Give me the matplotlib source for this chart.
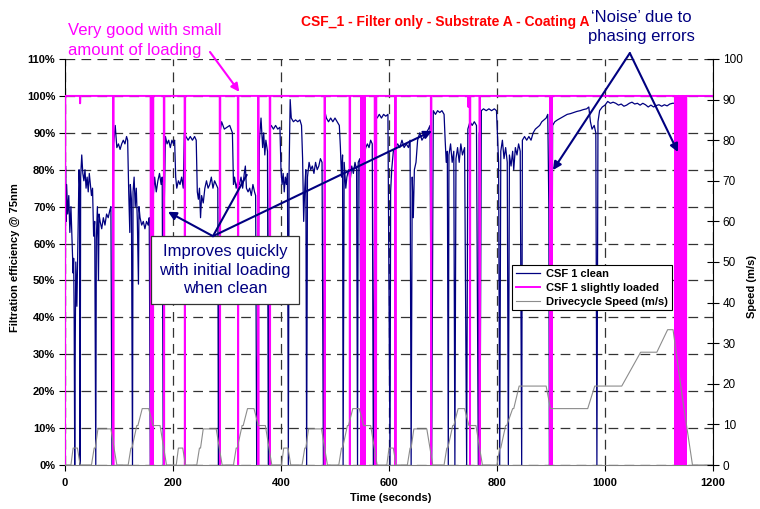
import matplotlib
matplotlib.use("Agg")
import matplotlib.pyplot as plt
from matplotlib.patches import Rectangle

# CSF 1 clean: filtration efficiency (%) vs time (s)
clean_readings = [
    (0, 0), (1, 81), (2, 66), (3, 76), (5, 68), (7, 73), (9, 63), (11, 70), (13, 61),
    (15, 52), (16, 56), (17, 40), (18, 0), (19, 34), (20, 55), (22, 43), (24, 62),
    (26, 80), (27, 76), (28, 0), (29, 78), (31, 84), (33, 79), (35, 77), (37, 80),
    (39, 75), (41, 78), (43, 74), (45, 79), (47, 76), (49, 73), (51, 75), (53, 62),
    (55, 66), (57, 0), (58, 61), (60, 70), (62, 50), (63, 68), (65, 66), (68, 64),
    (71, 67), (74, 65), (77, 68), (80, 67), (83, 69), (85, 70), (87, 0), (90, 87),
    (93, 92), (96, 86), (99, 87), (102, 85.5), (105, 87), (108, 88), (111, 87),
    (114, 89), (116, 88), (118, 74), (120, 63), (121, 76), (123, 72), (125, 0),
    (126, 74), (128, 78), (130, 70), (132, 75), (134, 66), (136, 49), (137, 70),
    (139, 67), (142, 65), (145, 66), (148, 64), (151, 66), (154, 65), (156, 67),
    (158, 0), (160, 71), (161, 0), (163, 72), (166, 78), (169, 74), (172, 77),
    (175, 79), (178, 76), (180, 78), (182, 0), (184, 72), (186, 89), (189, 87),
    (192, 88), (195, 86), (198, 88), (201, 87), (203, 88), (205, 78), (207, 75),
    (210, 77), (213, 76), (216, 78), (219, 75), (221, 90), (224, 89), (228, 88),
    (232, 89), (236, 88), (240, 89), (243, 88), (245, 74), (247, 72), (249, 75),
    (251, 67), (253, 73), (256, 71), (259, 75), (262, 77), (265, 75), (268, 76),
    (271, 78), (274, 75), (277, 77), (280, 76), (283, 75), (284, 0), (287, 90),
    (290, 93), (295, 91), (300, 91.5), (305, 92), (310, 90), (312, 76), (314, 78),
    (317, 75), (320, 77), (323, 76), (326, 78), (329, 75), (332, 79), (334, 81),
    (336, 75), (339, 74), (342, 75), (345, 73), (348, 76), (351, 74), (353, 73),
    (355, 0), (360, 88), (363, 94), (366, 86), (368, 90), (370, 84), (372, 88),
    (375, 85), (376.5, 0), (379, 91), (382, 92), (386, 91), (390, 92), (394, 91),
    (398, 91.5), (400, 80), (402, 76), (404, 79), (406, 74), (408, 78), (410, 76),
    (412, 79), (413.6, 0), (415, 80), (417, 99), (419, 94), (423, 93), (427, 93.5),
    (431, 93), (435, 93.5), (438, 92), (440, 83), (442, 66), (444, 75), (446, 80),
    (447.5, 0), (449, 78), (452, 82), (455, 80), (458, 81), (461, 79), (464, 82),
    (467, 80), (470, 81), (473, 83), (476, 82), (478.5, 0), (481, 96), (484, 94),
    (488, 93), (492, 94), (496, 93), (500, 94), (504, 93), (508, 92), (510, 86),
    (512, 78), (514, 84), (515, 0), (517, 82), (520, 75), (522, 78), (525, 80),
    (528, 77), (531, 81), (534, 79), (537, 82), (540, 80), (541.7, 0), (543, 82),
    (546, 83), (549, 0), (551, 81), (554, 84), (557, 86), (560, 87), (563, 86),
    (566, 88), (569, 87), (571, 0), (574, 95), (578, 94), (582, 95), (586, 94),
    (590, 95), (594, 94.5), (598, 95), (601.9, 0), (603, 74), (605, 80), (608, 85),
    (612, 86), (616, 87), (620, 86), (624, 88), (628, 86), (632, 87), (636, 86),
    (639, 88), (641, 0), (643, 78), (645, 67), (647, 80), (650, 82), (653, 88),
    (657, 90), (661, 88), (665, 89), (669, 90), (673, 91), (676, 92), (679, 0),
    (682, 96), (686, 95), (690, 96), (694, 95.5), (698, 96), (702, 95), (704, 88),
    (706, 82), (708, 85), (709.8, 0), (711, 84), (714, 87), (717, 82), (720, 85),
    (722, 0), (724, 83), (727, 86), (730, 82), (733, 87), (736, 84), (740, 86),
    (743.8, 0), (746, 91), (750, 93), (754, 92), (758, 93), (762, 92), (765.4, 0),
    (767, 90), (768.5, 0), (771, 96), (775, 96.5), (780, 96), (785, 96.5), (790, 96),
    (795, 96.5), (799, 96), (801, 89), (803, 82), (805, 0), (807, 85), (810, 88),
    (813, 83), (816, 86), (819, 82), (821, 0), (823, 84), (826, 81), (829, 85),
    (831, 80), (834, 86), (837, 84), (840, 87), (843, 85), (845.7, 0), (847, 88),
    (851, 89), (855, 88), (859, 89), (863, 88), (867, 90), (871, 91), (875, 91.5),
    (879, 92), (883, 93), (887, 93.5), (891, 94), (894, 95), (896, 70), (897, 0),
    (899, 60), (901, 0), (903, 92), (907, 93), (912, 93.5), (918, 94), (924, 94.5),
    (930, 95), (936, 95.2), (942, 95.5), (948, 95.8), (954, 96), (960, 96.3),
    (966, 96.5), (970, 97), (973, 93), (976, 91), (980, 92), (983, 90), (985, 0),
    (987, 93), (990, 96), (995, 97), (1000, 97.5), (1005, 98.5), (1010, 98),
    (1015, 98.3), (1020, 98), (1025, 97.5), (1030, 97.8), (1035, 97.2), (1040, 97.5),
    (1045, 98), (1050, 98.3), (1055, 97.8), (1060, 98), (1065, 97.5), (1070, 98),
    (1075, 97.6), (1080, 97), (1085, 97.5), (1090, 97), (1095, 97.4), (1100, 97.6),
    (1105, 97.2), (1110, 97.6), (1115, 97.3), (1120, 97.8), (1125, 98), (1129, 98),
    (1131, 0), (1134, 99), (1152, 100), (1200, 100),
]

# CSF 1 slightly loaded: sits at 100 %, falls to these values at these times
loaded_base = 100
loaded_events = [
    (0, 0), (28, 98), (89.5, 0), (159, 0), (161, 0), (163, 0), (183.5, 0), (222, 0),
    (287, 0), (320.6, 0), (358, 0), (379.6, 0), (481, 0), (527.5, 0), (549, 0),
    (551, 0), (553, 0), (555, 0), (574, 0), (576, 0), (612, 0), (678, 0), (747, 97),
    (750, 0), (768, 0), (899, 0), (901, 0), (1130, 0), (1131, 0), (1132, 0),
    (1133, 0), (1134, 0), (1135, 0), (1137, 0), (1138, 0), (1139, 0), (1140, 0),
    (1141, 0), (1142, 0), (1144, 0), (1145, 0), (1146, 0), (1147, 0), (1148, 0),
    (1149, 0), (1150, 0),
]

# NEDC drive cycle speed (m/s)
speed_t = [0, 11, 15, 23, 28, 49, 54, 56, 61, 85, 96, 117, 122, 124, 133, 135, 143, 155, 163, 176, 188,
           195, 206, 210, 218, 223, 244, 249, 251, 256, 280, 291, 312, 317, 319, 328, 330, 338, 350, 358, 371, 383,
           390, 401, 405, 413, 418, 439, 444, 446, 451, 475, 486, 507, 512, 514, 523, 525, 533, 545, 553, 566, 578,
           585, 596, 600, 608, 613, 634, 639, 641, 646, 670, 681, 702, 707, 709, 718, 720, 728, 740, 748, 761, 773,
           780, 800, 805, 807, 816, 818, 829, 831, 841, 891, 899, 968, 981, 1031, 1066, 1096, 1116, 1126, 1144,
           1162, 1200]
speed_v = [0, 0, 4.17, 4.17, 0, 0, 4.17, 4.17, 8.89, 8.89, 0, 0, 4.17, 4.17, 9.72, 9.72, 13.89, 13.89, 9.72, 9.72, 0,
           0, 0, 4.17, 4.17, 0, 0, 4.17, 4.17, 8.89, 8.89, 0, 0, 4.17, 4.17, 9.72, 9.72, 13.89, 13.89, 9.72, 9.72, 0,
           0, 0, 4.17, 4.17, 0, 0, 4.17, 4.17, 8.89, 8.89, 0, 0, 4.17, 4.17, 9.72, 9.72, 13.89, 13.89, 9.72, 9.72, 0,
           0, 0, 4.17, 4.17, 0, 0, 4.17, 4.17, 8.89, 8.89, 0, 0, 4.17, 4.17, 9.72, 9.72, 13.89, 13.89, 9.72, 9.72, 0,
           0, 0, 4.17, 4.17, 9.72, 9.72, 13.89, 13.89, 19.44, 19.44, 13.89, 13.89, 19.44, 19.44, 27.78, 27.78, 33.33,
           33.33, 16.0, 0, 0]

eff_ticks = list(range(0, 111, 10))
speed_ticks = list(range(0, 101, 10))
time_ticks = list(range(0, 1201, 200))

NAVY = "#000080"
MAGENTA = "#FF00FF"

plt.rcParams["font.family"] = ["Liberation Sans", "DejaVu Sans"]
plt.rcParams["lines.scale_dashes"] = False

clean_t = [r[0] for r in clean_readings]
clean_v = [r[1] for r in clean_readings]

# loaded series: flat at the base with a narrow notch at every event
loaded_t, loaded_v = [], []
for t, v in loaded_events:
    if t > 0:
        loaded_t.append(t - 0.5)
        loaded_v.append(loaded_base)
    loaded_t.append(t)
    loaded_v.append(v)
    loaded_t.append(t + 0.5)
    loaded_v.append(loaded_base)
loaded_t.append(1200)
loaded_v.append(loaded_base)

fig = plt.figure(figsize=(7.6, 5.09), dpi=100)
ax = fig.add_axes([65 / 760, 44 / 509, 648 / 760, 406 / 509])
ax2 = ax.twinx()

h1, = ax.plot(clean_t, clean_v, color=NAVY, lw=0.9, label="CSF 1 clean", zorder=2)
h2, = ax.plot(loaded_t, loaded_v, color=MAGENTA, lw=1.4, label="CSF 1 slightly loaded", zorder=3)
h3, = ax2.plot(speed_t, speed_v, color="#8c8c8c", lw=0.8, label="Drivecycle Speed (m/s)")

ax.set_xlim(0, 1200)
ax.set_ylim(0, 110)
ax2.set_ylim(0, 100)

ax.set_xticks(time_ticks)
ax.set_yticks(eff_ticks)
ax.set_yticklabels([f"{v}%" for v in eff_ticks])
ax2.set_yticks(speed_ticks)

grid_style = dict(color="#333333", lw=0.9, linestyle=(0, (7, 4.5)))
ax.grid(True, **grid_style)
ax.set_axisbelow(True)

for s in ["top", "right"]:
    ax.spines[s].set_visible(False)
ax.spines["left"].set_color("black")
ax.spines["bottom"].set_color("#808080")
for s in ["top", "left", "bottom"]:
    ax2.spines[s].set_visible(False)
ax2.spines["right"].set_color("black")

ax.tick_params(axis="y", direction="out", length=4, width=0.8, labelsize=8, pad=3)
ax.tick_params(axis="x", direction="out", length=4, width=0.8, labelsize=8, pad=5)
ax2.tick_params(axis="y", direction="inout", length=8, width=0.8, labelsize=8.5, pad=3)
for lab in ax.get_xticklabels() + ax.get_yticklabels():
    lab.set_fontweight("bold")

fig.text(15 / 760, 1 - 258 / 509, "Filtration efficiency @ 75nm", rotation=90,
         ha="center", va="center", fontsize=8, fontweight="bold")
fig.text(752 / 760, 1 - 287 / 509, "Speed (m/s)", rotation=90,
         ha="center", va="center", fontsize=8, fontweight="bold")
fig.text(391 / 760, 1 - 498 / 509, "Time (seconds)",
         ha="center", va="center", fontsize=8, fontweight="bold")
fig.text(445.5 / 760, 1 - 22 / 509, "CSF_1 - Filter only - Substrate A - Coating A",
         ha="center", va="center", fontsize=10, fontweight="bold", color="red")

leg = ax2.legend([h1, h2, h3], [h.get_label() for h in (h1, h2, h3)],
                 loc="upper left", bbox_to_anchor=(0.69, 0.493), borderaxespad=0,
                 fancybox=False, edgecolor="black", framealpha=1,
                 prop={"weight": "bold", "size": 8}, handlelength=2.2,
                 borderpad=0.35, labelspacing=0.35, handletextpad=0.5)
leg.get_frame().set_linewidth(0.8)

# annotations
fig.text(68 / 760, 1 - 40.5 / 509, "Very good with small\namount of loading",
         ha="left", va="center", fontsize=12, color=MAGENTA, linespacing=1.35)
ax.annotate("", xy=(322.8, 101.1), xytext=(268.5, 111.9), annotation_clip=False,
            arrowprops=dict(arrowstyle="-|>", color=MAGENTA, lw=1.5, mutation_scale=12,
                            shrinkA=0, shrinkB=0), zorder=6)

fig.text(641 / 760, 1 - 27 / 509, "\u2018Noise\u2019 due to\nphasing errors",
         ha="center", va="center", fontsize=12, color=NAVY, linespacing=1.35)
for tip in [(903.7, 79.9), (1135, 84.8)]:
    ax.annotate("", xy=tip, xytext=(1046, 111.6), annotation_clip=False,
                arrowprops=dict(arrowstyle="-|>", color=NAVY, lw=1.5, mutation_scale=12,
                                shrinkA=0, shrinkB=0), zorder=6)

ax.add_patch(Rectangle((159.3, 43.6), 274, 18.4, facecolor="white",
                       edgecolor="#333333", lw=0.9, zorder=5))
ax.text(296.3, 52.8, "Improves quickly\nwith initial loading\nwhen clean", ha="center",
        va="center", fontsize=12, color=NAVY, linespacing=1.3, zorder=6)
for tip, style in [((190.7, 68.6), "-|>"), ((336.5, 78.6), "-"), ((679.6, 90.5), "-|>")]:
    ax.annotate("", xy=tip, xytext=(274, 62.0),
                arrowprops=dict(arrowstyle=style, color=NAVY, lw=1.5, mutation_scale=12,
                                shrinkA=0, shrinkB=0), zorder=6)

fig.savefig("out.png", dpi=100)
